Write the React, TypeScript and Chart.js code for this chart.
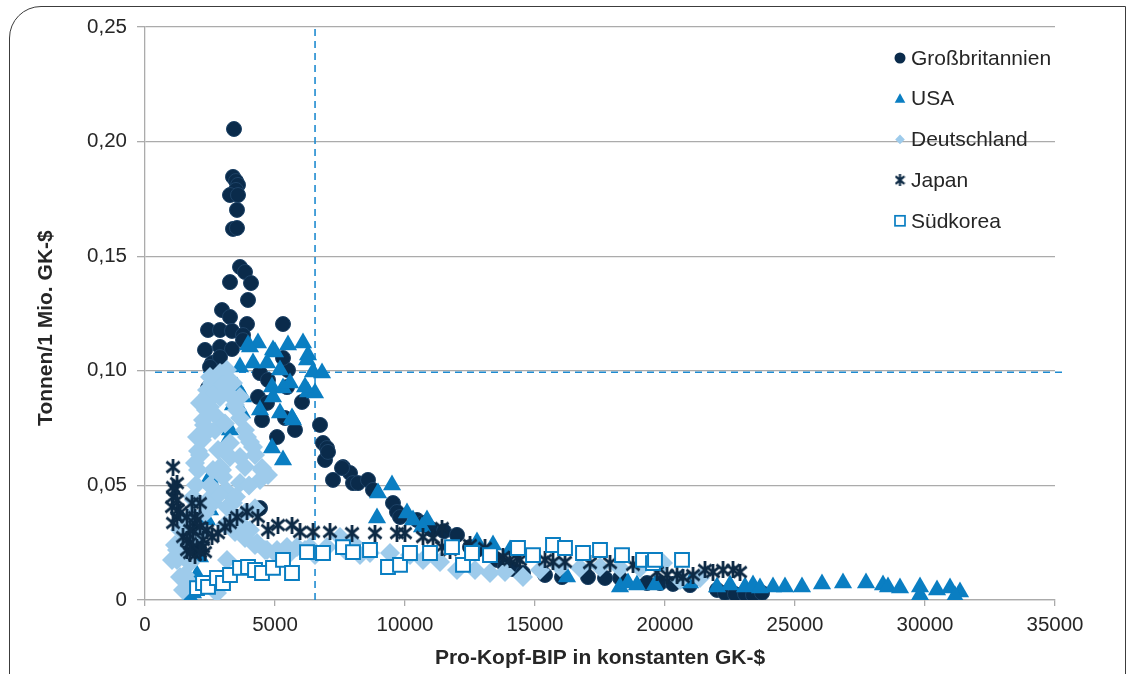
import React, { useEffect, useRef } from "react";
import { Chart, registerables } from "chart.js";

Chart.register(...registerables);

// ---------- data ----------
const SERIES_NAMES = ["Großbritannien", "USA", "Deutschland", "Japan", "Südkorea"];

const GB: [number, number][] = [
  [3423, 0.2055], [3385, 0.1846], [3500, 0.1828], [3577, 0.1811], [3500, 0.1789], [3269, 0.1767], [3577, 0.1767], [3538, 0.1702], [3385, 0.1619], [3538, 0.1623],
  [3654, 0.1453], [3846, 0.1431], [3269, 0.1387], [4077, 0.1383], [3962, 0.1309], [2962, 0.1265], [3269, 0.1235], [2423, 0.1178], [2885, 0.1178], [3346, 0.1174],
  [3923, 0.1204], [3769, 0.1156], [5308, 0.1204], [2308, 0.1091], [2885, 0.1104], [3346, 0.1095], [2577, 0.1034], [2885, 0.106], [3769, 0.1134], [5500, 0.1003],
  [5308, 0.1056], [4423, 0.099], [4346, 0.0886], [4692, 0.086], [5077, 0.0711], [5462, 0.0929], [6038, 0.0864], [6731, 0.0764], [6846, 0.0685], [7000, 0.0663],
  [6923, 0.0611], [7615, 0.058], [7885, 0.0554], [7231, 0.0524], [8000, 0.051], [4423, 0.0401], [2423, 0.0925], [2500, 0.1017], [5769, 0.0742], [7038, 0.0646],
  [7577, 0.0576], [8192, 0.051], [8577, 0.0524], [8769, 0.048], [9538, 0.0423], [9692, 0.0384], [9808, 0.0362], [10462, 0.0349], [10692, 0.0336], [11000, 0.031],
  [11500, 0.030], [12000, 0.0284], [12500, 0.0231], [12769, 0.0218], [13538, 0.0175], [13846, 0.0148], [14154, 0.0135], [14538, 0.0118], [15385, 0.0109], [16038, 0.01],
  [17038, 0.01], [17692, 0.0096], [18269, 0.0096], [19308, 0.0074], [19808, 0.0074], [20308, 0.007], [20962, 0.0065], [22000, 0.0044], [22308, 0.0031], [22692, 0.0026],
  [23077, 0.0026], [23385, 0.0022], [23731, 0.0031], [4500, 0.0785], [5385, 0.0794], [4731, 0.096],
];

const USA: [number, number][] = [
  [1731, 0.0013], [1846, 0.0031], [2115, 0.0188], [2000, 0.0109], [2385, 0.0349], [2577, 0.051], [2500, 0.0537], [2615, 0.0467], [2500, 0.0393], [3192, 0.0698], [3269, 0.0742],
  [4038, 0.1104], [4346, 0.1121], [4923, 0.1091], [5500, 0.1113], [6077, 0.1121], [6269, 0.1069], [3962, 0.1113], [5000, 0.1082], [6231, 0.1047], [3654, 0.1017],
  [4154, 0.1034], [4692, 0.1034], [5192, 0.1003], [4885, 0.0929], [5308, 0.0925], [4923, 0.0886], [6462, 0.0995], [6808, 0.099], [6269, 0.0908], [6538, 0.0903],
  [4423, 0.0829], [5192, 0.0816], [5654, 0.0794], [3731, 0.0816], [3769, 0.0886], [3538, 0.0929], [4885, 0.0663], [5308, 0.0611], [3385, 0.0851], [5577, 0.0947],
  [6154, 0.0929], [5692, 0.0785], [9500, 0.0502], [8962, 0.0467], [8923, 0.0358], [10077, 0.038], [10308, 0.0349], [10846, 0.0349], [10654, 0.0319], [12769, 0.0253],
  [13385, 0.024], [14038, 0.0218], [16231, 0.01], [18269, 0.0057], [18577, 0.0074], [18923, 0.0065], [19615, 0.0065], [20962, 0.0074], [22000, 0.0057], [22500, 0.0065],
  [23077, 0.0057], [23385, 0.0065], [23654, 0.0052], [24154, 0.0057], [24615, 0.0057], [25269, 0.0057], [26038, 0.007], [26846, 0.0074], [27731, 0.0074], [28385, 0.0065],
  [28577, 0.0057], [29038, 0.0052], [29808, 0.0057], [29808, 0.0022], [30462, 0.0044], [30962, 0.0052], [31346, 0.0035], [31154, 0.0017],
];

const DE: [number, number][] = [
  // rising left arm
  [1462, 0.0044], [1538, 0.0109], [1615, 0.0175], [1654, 0.024], [1731, 0.0305], [1808, 0.0371], [1885, 0.0436], [1962, 0.0502], [2038, 0.0567], [2115, 0.0633],
  [2192, 0.0698], [2269, 0.0764], [2346, 0.0829], [2423, 0.0894], [2577, 0.0947], [2808, 0.0973], [2885, 0.099], [3154, 0.1003], [2500, 0.0973], [2385, 0.0916],
  [1231, 0.0175], [1462, 0.01], [1731, 0.0074], [1346, 0.0305], [1846, 0.0449], [1923, 0.0598], [2000, 0.0711], [2231, 0.0785], [2115, 0.086], [1231, 0.0218],
  [1731, 0.0161], [1154, 0.024], [1538, 0.026], [1654, 0.035], [2038, 0.065], [2269, 0.072], [2692, 0.09], [3000, 0.094], [1038, 0.0175], [1346, 0.0100],
  // falling right arm
  [3077, 0.0938], [3269, 0.0894], [3462, 0.0851], [3654, 0.0794], [3846, 0.0742], [4038, 0.0689], [4231, 0.0633], [4500, 0.0576], [4731, 0.0545], [3385, 0.0947],
  [3654, 0.0886], [3538, 0.0829], [3923, 0.0711], [4154, 0.0668], [4500, 0.0567], [4423, 0.0524],
  // inner part
  [2692, 0.0742], [2808, 0.0654], [2962, 0.0567], [3115, 0.048], [3269, 0.0414], [3462, 0.0349], [2615, 0.0567], [2423, 0.0436], [2885, 0.0886], [2500, 0.0842],
  [2769, 0.0798], [3654, 0.0624], [3269, 0.0624], [3000, 0.0537], [2615, 0.0423], [3154, 0.0406], [3385, 0.0423], [3654, 0.051], [2885, 0.058], [3269, 0.0685],
  [3077, 0.077], [3846, 0.058], [4000, 0.05], [3500, 0.045], [2846, 0.046], [2500, 0.05], [2308, 0.038], [2154, 0.03], [2000, 0.025], [4231, 0.04], [3846, 0.038],
  // lower right arm
  [3077, 0.0327], [3462, 0.0297], [3846, 0.0271], [4231, 0.024], [4615, 0.0218], [5000, 0.0205], [5577, 0.0205], [6154, 0.0218], [3654, 0.0336], [4038, 0.0305],
  [4308, 0.0249], [4692, 0.0218], [5077, 0.0218], [5462, 0.0231], [5846, 0.0231], [6346, 0.0231], [7000, 0.0231], [7500, 0.0275], [8000, 0.0249], [3154, 0.0175],
  [2885, 0.0087], [2769, 0.0031], [6538, 0.0196], [7692, 0.0218], [8269, 0.0196],
  // long flat tail
  [8654, 0.0205], [9423, 0.0205], [10192, 0.0196], [10692, 0.0175], [11346, 0.0166], [12000, 0.0131], [12692, 0.0131], [13269, 0.0118], [13846, 0.0122], [14538, 0.01],
  [15192, 0.0131], [15962, 0.0144], [16731, 0.014], [17500, 0.0144], [18269, 0.014], [19038, 0.014], [19923, 0.0161], [20577, 0.0087], [21346, 0.0096],
];

const JP: [number, number][] = [
  [1077, 0.058], [1231, 0.051], [1154, 0.048], [1077, 0.0449], [1038, 0.0406], [1231, 0.0362], [1077, 0.0336], [1808, 0.0423], [2115, 0.0423], [1923, 0.0362],
  [1846, 0.0305], [1731, 0.0249], [1615, 0.0218], [2000, 0.0231], [2231, 0.0262], [2385, 0.0305], [2577, 0.0275], [2808, 0.0292], [3077, 0.0319], [3269, 0.0336],
  [3538, 0.0362], [3923, 0.0384], [4346, 0.0362], [4731, 0.0305], [5115, 0.0327], [5654, 0.0327], [5962, 0.0297], [6462, 0.0297], [7115, 0.0297], [7962, 0.0292],
  [1462, 0.0275], [1269, 0.0393], [8846, 0.0292], [9692, 0.0292], [10000, 0.0292], [10692, 0.0275], [11077, 0.0271], [11423, 0.0314], [11423, 0.0231], [11731, 0.0218],
  [12500, 0.024], [13077, 0.0227], [13769, 0.0188], [14038, 0.0175], [14308, 0.0183], [14423, 0.0175], [15385, 0.0175], [15692, 0.0166], [16154, 0.0166], [17115, 0.0161],
  [17885, 0.0161], [18769, 0.0153], [19692, 0.0122], [20077, 0.0109], [20462, 0.0109], [20692, 0.01], [21077, 0.0109], [21538, 0.0131], [21846, 0.0122], [22231, 0.0131],
  [22615, 0.0131], [22885, 0.0122], [1923, 0.0196], [2308, 0.0209],
  [1077, 0.0493], [1231, 0.0436], [1346, 0.038], [1615, 0.0362], [2000, 0.0349], [1731, 0.0305], [2115, 0.0319], [1615, 0.0262], [1846, 0.0231], [2231, 0.0231],
  [1731, 0.0205], [2115, 0.0209],
];

const KR: [number, number][] = [
  [2000, 0.0052], [2231, 0.0074], [2423, 0.0057], [2769, 0.0096], [3000, 0.0074], [3269, 0.0109], [3654, 0.014], [3962, 0.0144], [4231, 0.0131], [4500, 0.0118],
  [4923, 0.014], [5308, 0.0175], [5654, 0.0118], [6231, 0.0209], [6846, 0.0205], [7615, 0.0231], [8000, 0.0209], [8654, 0.0218], [9346, 0.0144], [9808, 0.0153],
  [10192, 0.0205], [10962, 0.0205], [11808, 0.0231], [12231, 0.0153], [12577, 0.0205], [13269, 0.0196], [14346, 0.0227], [14923, 0.0196], [15692, 0.024], [16154, 0.0227],
  [16846, 0.0205], [17500, 0.0218], [18346, 0.0196], [19154, 0.0175], [19538, 0.0161], [19615, 0.0175], [20654, 0.0175],
];

// reference lines
const REF_X = 6540;
const REF_Y = 0.0994;
const REF_Y_SPAN: [number, number] = [385, 35385];

// axes
const X_MIN = 0;
const X_MAX = 35000;
const X_STEP = 5000;
const Y_MIN = 0;
const Y_MAX = 0.25;
const Y_STEP = 0.05;
const X_TITLE = "Pro-Kopf-BIP in konstanten GK-$";
const Y_TITLE = "Tonnen/1 Mio. GK-$";

// ---------- styles ----------
const FONT = '"Liberation Sans", Arial, sans-serif';
const TEXT = "#262626";
const GRID = "#ababab";
const C_GB = "#0a2b4b";
const C_USA = "#0a7ec2";
const C_DE = "#9ecbeb";
const C_JP = "#0d2a45";
const C_KR = "#0a7ec2";
const C_REF = "#1f8bd0";

const toPts = (arr: [number, number][]) => arr.map(([x, y]) => ({ x, y }));

function makeAsterisk(w: number, h: number, lw: number, color: string) {
  const c = document.createElement("canvas");
  c.width = w;
  c.height = h;
  const g = c.getContext("2d")!;
  g.strokeStyle = color;
  g.lineWidth = lw;
  const m = lw / 2;
  g.beginPath();
  g.moveTo(m, h * 0.18);
  g.lineTo(w - m, h * 0.82);
  g.moveTo(w - m, h * 0.18);
  g.lineTo(m, h * 0.82);
  g.moveTo(w / 2, 0);
  g.lineTo(w / 2, h);
  g.stroke();
  return c;
}

export default function App() {
  const ref = useRef<HTMLCanvasElement | null>(null);

  useEffect(() => {
    if (!ref.current) return;
    const astBig = makeAsterisk(16, 17, 2.8, C_JP);
    const astSmall = makeAsterisk(11, 12, 2.2, C_JP);

    const drawMarker = (ctx: CanvasRenderingContext2D, i: number, x: number, y: number) => {
      ctx.save();
      if (i === 0) {
        ctx.fillStyle = C_GB;
        ctx.beginPath();
        ctx.arc(x, y, 5.5, 0, Math.PI * 2);
        ctx.fill();
      } else if (i === 1) {
        ctx.fillStyle = C_USA;
        ctx.beginPath();
        ctx.moveTo(x, y - 5.5);
        ctx.lineTo(x + 5.3, y + 4);
        ctx.lineTo(x - 5.3, y + 4);
        ctx.closePath();
        ctx.fill();
      } else if (i === 2) {
        ctx.fillStyle = C_DE;
        ctx.beginPath();
        ctx.moveTo(x, y - 4.8);
        ctx.lineTo(x + 4.8, y);
        ctx.lineTo(x, y + 4.8);
        ctx.lineTo(x - 4.8, y);
        ctx.closePath();
        ctx.fill();
      } else if (i === 3) {
        ctx.drawImage(astSmall, x - astSmall.width / 2, y - astSmall.height / 2);
      } else {
        ctx.fillStyle = "#ffffff";
        ctx.strokeStyle = C_KR;
        ctx.lineWidth = 1.7;
        ctx.fillRect(x - 5, y - 5, 10, 10);
        ctx.strokeRect(x - 5, y - 5, 10, 10);
      }
      ctx.restore();
    };

    const legendPlugin = {
      id: "insideLegend",
      afterDraw(chart: any) {
        const ctx: CanvasRenderingContext2D = chart.ctx;
        const area = chart.chartArea;
        const mx = area.right - 155;
        const y0 = area.top + 31;
        ctx.save();
        SERIES_NAMES.forEach((name, i) => {
          const cy = y0 + i * 40.7;
          drawMarker(ctx, i, mx, cy);
          ctx.fillStyle = TEXT;
          ctx.font = `21px ${FONT}`;
          ctx.textBaseline = "middle";
          ctx.textAlign = "left";
          ctx.fillText(name, mx + 11, cy + 1);
        });
        ctx.restore();
      },
    };

    const chart = new Chart(ref.current, {
      type: "scatter",
      data: {
        datasets: [
          {
            label: SERIES_NAMES[0],
            data: toPts(GB),
            pointStyle: "circle",
            pointRadius: 7.5,
            backgroundColor: C_GB,
            borderColor: "#1d4266",
            borderWidth: 1,
            order: 4,
          },
          {
            label: SERIES_NAMES[1],
            data: toPts(USA),
            pointStyle: "triangle",
            pointRadius: 10.5,
            backgroundColor: C_USA,
            borderColor: C_USA,
            borderWidth: 0,
            order: 3,
          },
          {
            label: SERIES_NAMES[2],
            data: toPts(DE),
            pointStyle: "rectRot",
            pointRadius: 10,
            backgroundColor: C_DE,
            borderColor: C_DE,
            borderWidth: 0,
            order: 2,
          },
          {
            label: SERIES_NAMES[3],
            data: toPts(JP),
            pointStyle: astBig as any,
            pointRadius: 8,
            backgroundColor: C_JP,
            borderColor: C_JP,
            order: 1,
          },
          {
            label: SERIES_NAMES[4],
            data: toPts(KR),
            pointStyle: "rect",
            pointRadius: 9.8,
            backgroundColor: "#ffffff",
            borderColor: C_KR,
            borderWidth: 2,
            order: 0,
          },
          {
            label: "refX",
            data: [{ x: REF_X, y: Y_MIN }, { x: REF_X, y: Y_MAX }],
            showLine: true,
            pointRadius: 0,
            borderColor: C_REF,
            borderWidth: 1.6,
            borderDash: [7, 5],
            clip: false as any,
            order: 10,
          },
          {
            label: "refY",
            data: [{ x: REF_Y_SPAN[0], y: REF_Y }, { x: REF_Y_SPAN[1], y: REF_Y }],
            showLine: true,
            pointRadius: 0,
            borderColor: C_REF,
            borderWidth: 1.6,
            borderDash: [7, 5],
            clip: false as any,
            order: 10,
          },
        ] as any,
      },
      options: {
        animation: false,
        responsive: false,
        events: [],
        layout: { padding: { left: 0, right: 73, top: 27, bottom: 0 } },
        plugins: {
          legend: { display: false },
          tooltip: { enabled: false },
        },
        scales: {
          x: {
            type: "linear",
            min: X_MIN,
            max: X_MAX,
            afterFit: (s: any) => {
              s.height = 74;
            },
            ticks: {
              stepSize: X_STEP,
              autoSkip: false,
              maxRotation: 0,
              padding: 7,
              color: TEXT,
              font: { family: FONT, size: 20.5 },
              callback: (v: any) => String(v),
            },
            grid: {
              drawOnChartArea: false,
              drawTicks: true,
              tickLength: 6,
              color: GRID,
              lineWidth: 1.3,
            },
            border: { display: true, color: GRID, width: 1.3 },
            title: {
              display: true,
              text: X_TITLE,
              color: TEXT,
              font: { family: FONT, size: 21, weight: "bold" },
              padding: { top: 0, bottom: 3 },
            },
          },
          y: {
            type: "linear",
            min: Y_MIN,
            max: Y_MAX,
            afterFit: (s: any) => {
              s.width = 145;
            },
            ticks: {
              stepSize: Y_STEP,
              autoSkip: false,
              padding: 10,
              color: TEXT,
              font: { family: FONT, size: 20.5 },
              callback: (v: any) => (Number(v) === 0 ? "0" : Number(v).toFixed(2).replace(".", ",")),
            },
            grid: {
              color: GRID,
              lineWidth: 1.3,
              tickLength: 8,
            },
            border: { display: true, color: GRID, width: 1.3 },
            title: {
              display: true,
              text: Y_TITLE + "     ",
              color: TEXT,
              font: { family: FONT, size: 21, weight: "bold" },
              padding: { top: 34, bottom: 0 },
            },
          },
        },
      } as any,
      plugins: [legendPlugin],
    });

    return () => chart.destroy();
  }, []);

  return (
    <div
      style={{
        position: "fixed",
        left: 0,
        top: 0,
        width: 1128,
        height: 674,
        overflow: "hidden",
        background: "#ffffff",
      }}
    >
      <div
        style={{
          position: "absolute",
          left: 9,
          top: 6,
          width: 1117,
          height: 740,
          boxSizing: "border-box",
          border: "1.5px solid #3c3c3c",
          borderTopLeftRadius: 32,
        }}
      />
      <canvas
        ref={ref}
        width={1128}
        height={674}
        style={{ position: "absolute", left: 0, top: 0, display: "block" }}
      />
    </div>
  );
}
